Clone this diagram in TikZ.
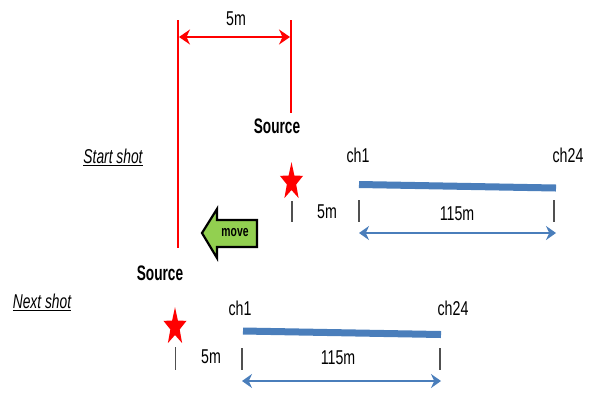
\documentclass[tikz,border=0pt]{standalone}
\usepackage{graphicx}
\usepackage{fontspec}
\setmainfont{Liberation Sans}
\usetikzlibrary{arrows.meta}
\definecolor{sred}{RGB}{255,0,0}
\definecolor{sblue}{RGB}{74,126,187}
\definecolor{sgreen}{RGB}{146,208,80}
\definecolor{stick}{RGB}{80,80,80}
\newcommand\nrw[1]{\scalebox{0.71}[1]{#1}}
\newcommand\nrwb[1]{\scalebox{0.65}[1]{#1}}
\tikzset{
  lbl/.style={font=\fontsize{20}{22}\selectfont, inner sep=0pt},
  srclbl/.style={font=\bfseries\fontsize{21}{23}\selectfont, inner sep=0pt},
  shotlbl/.style={font=\itshape\fontsize{20}{22}\selectfont, inner sep=0pt},
  redline/.style={draw=sred, line width=2pt},
  reddim/.style={draw=sred, line width=2.4pt, {Stealth[length=11pt,width=15pt]}-{Stealth[length=11pt,width=15pt]}},
  bluedim/.style={draw=sblue, line width=2.6pt, {Stealth[length=10pt,width=14pt]}-{Stealth[length=10pt,width=14pt]}},
  cable/.style={draw=sblue, line width=7pt},
  tickmark/.style={draw=stick, line width=1.1pt},
}
\newcommand\redstar[2]{%
  \fill[sred, shift={(#1,#2)}, yscale=1.64]
    (270:12.1) -- (306:4.9) -- (342:12.1) -- (18:4.9) -- (54:12.1) --
    (90:4.9) -- (126:12.1) -- (162:4.9) -- (198:12.1) -- (234:4.9) -- cycle;}
\begin{document}
\begin{tikzpicture}[x=1pt,y=-1pt]
\useasboundingbox (0,0) rectangle (593,392);
% red vertical reference lines
\coordinate (LT) at (178,20);
\coordinate (LB) at (178,248);
\coordinate (RT) at (291,20);
\coordinate (RB) at (291,113);
\draw[redline] (LT) -- (LB);
\draw[redline] (RT) -- (RB);
\coordinate (DA) at (179,37);
\coordinate (DB) at (290,37);
\draw[reddim] (DA) -- (DB);
\node[lbl] (top5m) at (236,19) {\nrw{5m}};

% start shot
\node[srclbl] (src1) at (277,126) {\nrwb{Source}};
\node[shotlbl] (start) at (113,157) {\scalebox{0.69}[1]{\underline{Start shot}}};
\redstar{291.5}{182}
\coordinate (t1a) at (292,201); \coordinate (t1b) at (292,222);
\draw[tickmark] (t1a) -- (t1b);
\node[lbl] (d1) at (327,212) {\nrw{5m}};
\node[lbl] (c1a) at (358,155) {\nrw{ch1}};
\node[lbl] (c1b) at (568,155) {\nrw{ch24}};
\coordinate (b1a) at (359,184.5); \coordinate (b1b) at (556,188);
\draw[cable] (b1a) -- (b1b);
\coordinate (k1a) at (359,200); \coordinate (k1b) at (359,222);
\coordinate (k1c) at (554,200); \coordinate (k1d) at (554,222);
\draw[tickmark] (k1a) -- (k1b);
\draw[tickmark] (k1c) -- (k1d);
\node[lbl] (l1) at (457,214) {\nrw{115m}};
\coordinate (a1a) at (359,233); \coordinate (a1b) at (556,233);
\draw[bluedim] (a1a) -- (a1b);

% move arrow
\draw[fill=sgreen, draw=black, line width=2.2pt, line join=miter]
  (202,233) -- (217,209) -- (217,220) -- (257,220) -- (257,247) -- (217,247) -- (217,258) -- cycle;
\node[font=\bfseries\fontsize{15}{17}\selectfont, inner sep=0pt] (mv) at (235,233) {\scalebox{0.69}[1]{move}};

% next shot
\node[srclbl] (src2) at (160,273) {\nrwb{Source}};
\node[shotlbl] (next) at (42,302) {\scalebox{0.69}[1]{\underline{Next shot}}};
\redstar{175}{327}
\coordinate (t2a) at (175.5,347); \coordinate (t2b) at (175.5,370);
\draw[tickmark] (t2a) -- (t2b);
\node[lbl] (d2) at (211,357) {\nrw{5m}};
\node[lbl] (c2a) at (240,308) {\nrw{ch1}};
\node[lbl] (c2b) at (453,308) {\nrw{ch24}};
\coordinate (b2a) at (243,331); \coordinate (b2b) at (441,334.5);
\draw[cable] (b2a) -- (b2b);
\coordinate (k2a) at (242,348); \coordinate (k2b) at (242,370);
\coordinate (k2c) at (440,348); \coordinate (k2d) at (440,370);
\draw[tickmark] (k2a) -- (k2b);
\draw[tickmark] (k2c) -- (k2d);
\node[lbl] (l2) at (338,358) {\nrw{115m}};
\coordinate (a2a) at (242,381); \coordinate (a2b) at (441,381);
\draw[bluedim] (a2a) -- (a2b);
\end{tikzpicture}
\end{document}
